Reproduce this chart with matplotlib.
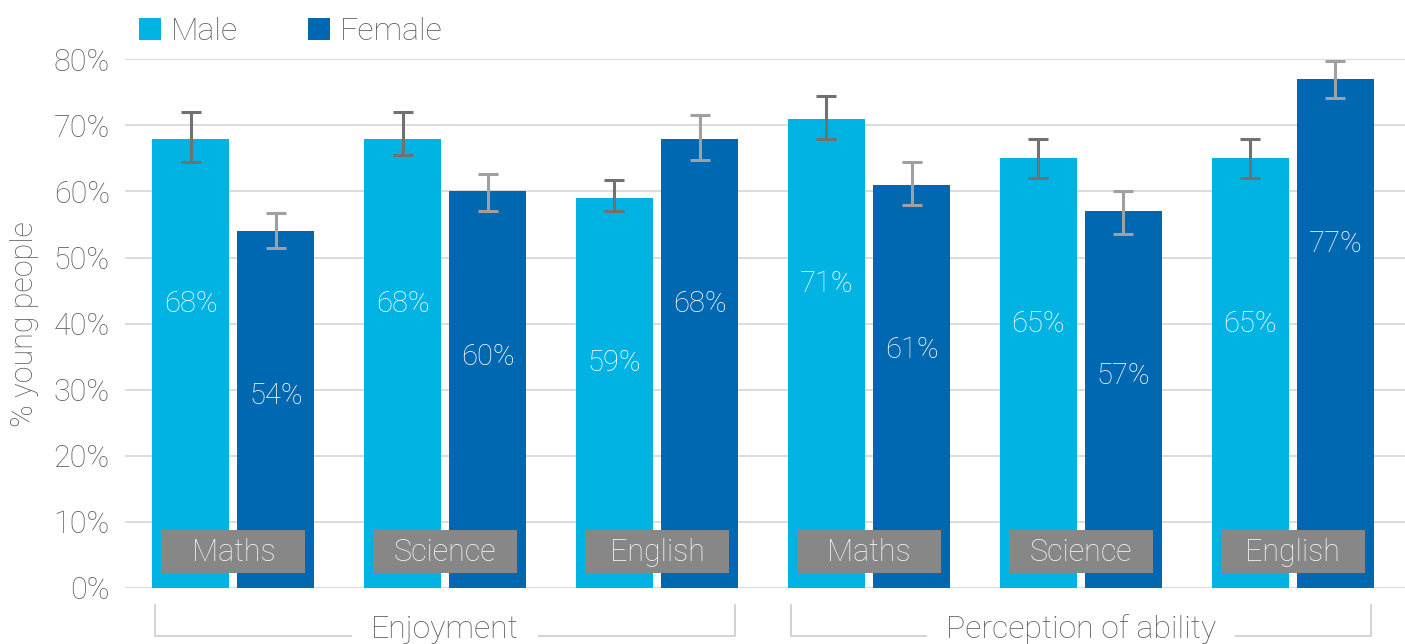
import matplotlib
matplotlib.use("Agg")
import matplotlib.pyplot as plt
import matplotlib.transforms as mtransforms
from matplotlib.patches import Patch, Rectangle
import numpy as np

plt.rcParams['font.family'] = ['Roboto', 'DejaVu Sans']

subjects = ["Maths", "Science", "English", "Maths", "Science", "English"]
groups = ["Enjoyment", "Perception of ability"]
group_members = [[0, 1, 2], [3, 4, 5]]
series = ["Male", "Female"]
male = [68, 68, 59, 71, 65, 65]
female = [54, 60, 68, 61, 57, 77]
male_low = [64.4, 65.5, 57.1, 68.0, 62.0, 62.0]
male_high = [72.0, 72.0, 61.7, 74.5, 67.9, 67.9]
female_low = [51.4, 57.1, 64.7, 58.0, 53.5, 74.1]
female_high = [56.8, 62.7, 71.5, 64.4, 60.0, 79.8]
yticks = [0, 10, 20, 30, 40, 50, 60, 70, 80]
ytick_labels = ["0%", "10%", "20%", "30%", "40%", "50%", "60%", "70%", "80%"]
ylabel = "% young people"

c_male = "#00b3e3"
c_female = "#0067b1"
c_text = "#5f5f5f"
c_grid = "#d9d9d9"

fig = plt.figure(figsize=(14.05, 6.44), dpi=100)
ax = fig.add_axes([0.089, 0.087, 0.911, 0.821])

x = np.arange(len(subjects))
w = 0.364
off = 0.201
ax.bar(x - off, male, w, color=c_male, zorder=2)
ax.bar(x + off, female, w, color=c_female, zorder=2)

m = np.array(male); f = np.array(female)
ax.errorbar(x - off, m, yerr=[m - np.array(male_low), np.array(male_high) - m],
            fmt='none', ecolor="#717171", elinewidth=2.2, capsize=7, capthick=2.2,
            zorder=3, clip_on=False)
ax.errorbar(x + off, f, yerr=[f - np.array(female_low), np.array(female_high) - f],
            fmt='none', ecolor="#a0a0a0", elinewidth=2.2, capsize=7, capthick=2.2,
            zorder=3, clip_on=False)

for xi, v in zip(x - off, male):
    ax.text(xi, v - 25.0, f"{v}%", ha='center', va='center', color='white',
            fontsize=21, fontweight='light', zorder=4)
for xi, v in zip(x + off, female):
    ax.text(xi, v - 25.0, f"{v}%", ha='center', va='center', color='white',
            fontsize=21, fontweight='light', zorder=4)

# category label boxes
for xi, s in zip(x, subjects):
    ax.add_patch(Rectangle((xi - 0.34, 2.27), 0.68, 6.5, facecolor="#878787",
                           edgecolor='none', zorder=4))
    ax.text(xi, 5.4, s, ha='center', va='center', color='#f4f4f4',
            fontsize=22, fontweight='light', zorder=5)

ax.set_xlim(-0.511, 5.53)
ax.set_ylim(0, 80)
ax.set_yticks(yticks)
ax.set_yticklabels(ytick_labels, fontsize=22, color=c_text, fontweight='light')
ax.tick_params(axis='y', length=0, pad=11)
ax.set_xticks([])
ax.grid(axis='y', color=c_grid, linewidth=1.3, zorder=0)
ax.set_axisbelow(True)
for sp in ax.spines.values():
    sp.set_visible(False)
ax.set_ylabel(ylabel, fontsize=22, color=c_text, fontweight='light')
ax.yaxis.set_label_coords(-0.067, 0.5)

# group brackets
trans = mtransforms.blended_transform_factory(ax.transData, ax.transAxes)
for name, mem in zip(groups, group_members):
    left = mem[0] - off - w / 2 + 0.015
    right = mem[-1] + off + w / 2 - 0.015
    ax.plot([left, left, right, right], [-0.032, -0.091, -0.091, -0.032],
            transform=trans, color="#d0d0d0", linewidth=1.3, clip_on=False, zorder=1)
    ax.text((left + right) / 2, -0.078, name, transform=trans, ha='center', va='center',
            fontsize=23, color=c_text, fontweight='light', zorder=6,
            bbox=dict(boxstyle='square,pad=0.6', facecolor='white', edgecolor='none'))

handles = [Patch(facecolor=c_male, edgecolor='none'), Patch(facecolor=c_female, edgecolor='none')]
fig.legend(handles, series, loc='upper left', bbox_to_anchor=(0.0785, 1.018), ncol=2,
           frameon=False, prop=dict(size=23, weight='light'), labelcolor=c_text,
           handlelength=0.68, handleheight=0.68, handletextpad=0.32, columnspacing=2.2)

fig.savefig("out.png", dpi=100)
